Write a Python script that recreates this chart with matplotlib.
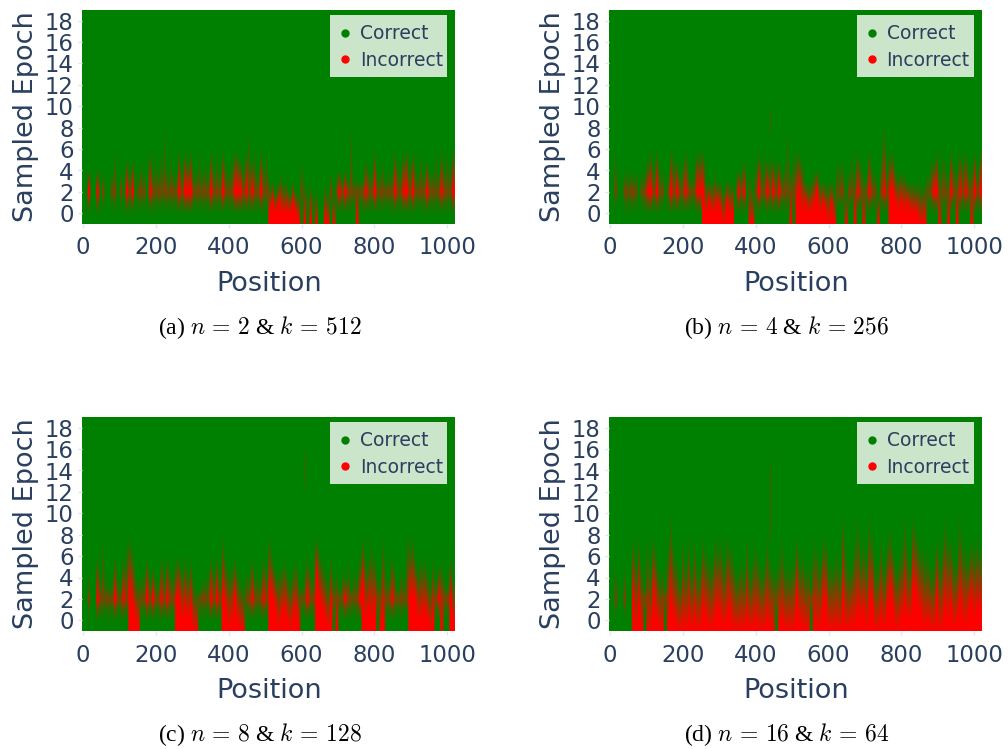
import numpy as np
import matplotlib
matplotlib.use("Agg")
import matplotlib.pyplot as plt
from matplotlib.colors import LinearSegmentedColormap
from matplotlib.lines import Line2D
from matplotlib.patches import Rectangle

# Per 8-position bin: top = epoch at which the incorrect region has faded out
# core: 0 = dim band around epoch 2, 1 = bright band around epoch 2,
#       n >= 2 = solid red from the bottom up to epoch n-3
a_top = [0,0,4,0,0,4,0,4,0,0,4,6,0,4,0,5,
         4,5,0,4,5,4,0,6,4,6,4,6,8,4,6,4,
         4,6,4,6,5,6,4,4,6,4,5,4,6,4,6,4,
         6,5,4,5,6,6,5,4,6,8,5,6,4,6,5,6,
         3,3,2,3,4,3,3,2,3,2,2,5,3,2,3,2,
         2,0,0,3,2,4,2,4,4,3,4,3,8,3,4,3,
         3,5,4,4,6,4,4,5,3,4,4,6,5,4,6,6,
         4,6,5,4,6,4,5,4,4,6,4,6,4,6,5,6]
a_core = [0,0,1,0,0,1,0,0,0,0,0,0,0,0,0,1,
          0,1,0,0,0,0,0,1,0,0,0,0,0,0,0,0,
          0,1,0,1,1,1,0,0,0,0,0,0,1,0,0,0,
          1,0,0,0,1,1,1,0,1,0,1,0,0,1,0,0,
          3,4,3,4,3,3,3,3,4,3,2,0,2,0,2,0,
          2,0,0,2,2,0,2,0,1,0,1,0,0,0,2,0,
          0,1,0,0,1,0,0,0,0,0,0,1,0,0,1,1,
          0,1,0,0,0,0,1,0,0,0,0,1,0,0,0,1]

b_top = [0,0,6,0,0,4,4,4,4,4,0,4,4,5,6,4,
         6,5,4,0,4,6,6,5,4,5,6,4,3,5,6,6,
         6,3,3,3,4,3,3,2,3,3,3,0,4,4,5,0,
         4,2,5,6,5,6,5,6,5,5,5,4,5,8,4,6,
         6,6,5,3,3,3,4,4,3,3,3,3,3,2,5,5,
         5,2,4,6,4,6,5,4,4,6,4,4,2,5,8,4,
         6,6,4,4,4,4,3,3,3,3,3,3,3,4,5,5,
         6,4,6,5,4,6,5,4,6,5,6,4,5,6,4,6]
b_core = [0,0,0,0,0,0,0,0,0,0,0,0,0,1,1,0,
          1,0,0,0,0,1,0,1,0,0,1,0,0,0,1,1,
          5,3,4,3,3,4,3,2,4,3,3,0,1,0,1,0,
          2,2,0,1,0,0,1,0,1,0,1,0,0,0,2,0,
          4,5,3,4,3,3,4,5,3,4,3,2,4,2,0,0,
          0,2,0,0,2,1,0,2,0,1,0,0,2,0,1,0,
          5,5,4,3,4,3,4,3,3,3,2,2,2,0,0,1,
          1,2,0,0,2,1,0,2,1,0,1,0,2,1,0,1]

c_top = [0,0,4,0,0,6,4,8,4,3,4,6,4,4,6,8,
         8,7,5,4,4,5,6,4,5,4,4,6,4,6,5,4,
         6,6,5,6,5,6,4,3,3,4,4,5,6,5,6,4,
         8,6,5,5,6,5,4,3,5,4,6,4,5,4,6,5,
         8,6,5,5,5,6,5,4,5,6,4,3,5,6,5,4,
         8,7,6,5,4,6,4,5,3,5,4,6,3,5,4,6,
         8,6,6,8,6,4,5,8,4,4,6,5,3,5,4,8,
         8,8,6,5,6,6,5,4,6,4,5,6,4,3,6,4]
c_core = [0,0,0,0,0,1,0,0,0,0,0,1,0,0,1,0,
          6,4,3,2,0,0,1,0,1,0,0,1,0,1,0,0,
          5,5,3,4,3,4,2,2,0,0,0,0,1,0,1,0,
          5,4,2,3,5,3,2,2,0,0,1,0,0,0,1,0,
          6,5,4,2,3,4,3,2,3,4,2,0,0,1,0,0,
          7,5,4,3,2,4,0,2,0,0,1,0,0,0,0,1,
          6,3,4,3,4,0,2,3,0,0,1,0,0,0,0,0,
          5,5,5,3,3,4,3,2,3,0,1,3,0,0,5,3]

d_top = [0,0,5,0,0,5,0,0,8,6,8,5,3,8,5,8,
         6,5,5,3,8,10,7,6,4,8,6,8,5,8,5,6,
         8,7,6,6,8,8,8,6,8,8,7,5,5,6,5,8,
         5,6,8,6,5,6,8,6,5,5,6,8,5,6,5,6,
         8,6,7,5,6,3,8,7,6,8,8,5,6,6,7,5,
         10,6,5,6,8,10,6,8,6,10,8,5,6,8,5,7,
         9,7,6,6,7,10,7,6,10,9,7,8,6,7,5,5,
         8,6,8,10,8,8,6,6,10,7,8,6,8,7,8,7]
d_core = [0,0,0,0,0,0,0,0,5,2,4,2,0,2,2,6,
          3,2,2,0,3,4,3,2,2,2,2,3,2,3,2,2,
          4,3,2,2,3,4,3,2,3,4,2,2,2,2,2,3,
          2,2,3,2,2,2,3,2,2,0,2,3,2,2,2,2,
          5,3,2,2,2,0,3,2,2,4,5,2,2,2,2,2,
          5,2,2,3,2,4,3,4,2,5,4,2,2,3,2,4,
          6,4,2,2,3,4,3,3,6,5,4,3,2,3,2,2,
          5,2,2,4,3,4,2,3,5,3,2,4,5,3,4,4]

# Faint isolated streaks: (bin, first epoch, last epoch)
a_streaks = []
b_streaks = [(55, 8, 9)]
c_streaks = [(76, 13, 15)]
d_streaks = [(55, 8, 14)]

captions = [r"(a) $n\,=\,2$ & $k\,=\,512$", r"(b) $n\,=\,4$ & $k\,=\,256$",
            r"(c) $n\,=\,8$ & $k\,=\,128$", r"(d) $n\,=\,16$ & $k\,=\,64$"]
epochs = np.arange(-1, 20)
xticks = [0, 200, 400, 600, 800, 1000]
yticks = list(range(0, 19, 2))
INK = "#2a3f5f"
W, H = 1008, 749
boxes = [(82, 10), (609, 10), (82, 417), (609, 417)]
PW, PH = 374, 214
BIN = 8
PROFILE = np.array([0.5, 1.0, 0.8, 0.5])

plt.rcParams["mathtext.fontset"] = "cm"
cmap = LinearSegmentedColormap.from_list("rg", ["#008000", "#ff0000"])


def build(top, core, streaks):
    z = np.zeros((len(epochs), len(top)))
    for j, (t, c) in enumerate(zip(top, core)):
        if t == 0:
            continue
        if c >= 2:
            s = c - 3
            t = max(t, s + 1)
            z[:, j] = np.clip((t - epochs) / (t - s), 0, 1) ** 0.75
        else:
            peak = 1.0 if c == 1 else 0.6
            up = np.clip((t - epochs) / max(t - 2, 1), 0, 1) ** 0.7
            down = np.clip((epochs + 0.2) / 2.2, 0, 1)
            z[:, j] = peak * np.minimum(up, down)
    for b, e0, e1 in streaks:
        z[(epochs >= e0) & (epochs <= e1), b] = 0.3
    # each bin is a narrow streak: full width where solid, thin where faded
    sub = np.repeat(z, len(PROFILE), axis=1)
    prof = np.tile(PROFILE, len(top))
    return np.clip(sub - (1 - prof) * (1 - sub) * 1.2, 0, 1)


panels = [(a_top, a_core, a_streaks), (b_top, b_core, b_streaks),
          (c_top, c_core, c_streaks), (d_top, d_core, d_streaks)]

fig = plt.figure(figsize=(W / 100, H / 100), dpi=100)
for (top, core, streaks), (px, py), cap in zip(panels, boxes, captions):
    ax = fig.add_axes([px / W, 1 - (py + PH) / H, PW / W, PH / H])
    z = build(top, core, streaks)
    ax.imshow(z, origin="lower", aspect="auto", cmap=cmap, vmin=0, vmax=1,
              interpolation="bilinear", interpolation_stage="rgba",
              extent=[-BIN / 2, len(top) * BIN - BIN / 2, -1.5, 19.5])
    ax.set_xlim(-3, 1024)
    ax.set_ylim(-1, 19)
    ax.set_xticks(xticks)
    ax.set_yticks(yticks)
    ax.tick_params(axis="x", labelsize=16.4, labelcolor=INK, color="#dfe6ee",
                   length=3, width=1, pad=6)
    ax.tick_params(axis="y", labelsize=16.4, labelcolor=INK, color="#dfe6ee",
                   length=3, width=1, pad=3)
    for s in ax.spines.values():
        s.set_visible(False)
    ax.set_xlabel("Position", fontsize=19.5, color=INK, labelpad=8.5)
    ax.set_ylabel("Sampled Epoch", fontsize=19.5, color=INK, labelpad=4.5)
    ax.add_patch(Rectangle((248 / PW, 1 - 67 / PH), 117 / PW, 62 / PH, transform=ax.transAxes,
                           facecolor="white", alpha=0.8, edgecolor="none", zorder=3))
    handles = [Line2D([], [], ls="", marker="o", ms=5, color="#008000", label="Correct"),
               Line2D([], [], ls="", marker="o", ms=5, color="#ff0000", label="Incorrect")]
    ax.legend(handles=handles, loc="upper left",
              bbox_to_anchor=(248 / PW, 1 - 10 / PH), borderaxespad=0,
              fontsize=13.5, labelcolor=INK, frameon=False, handletextpad=0.2,
              handlelength=1.16, labelspacing=0.42, borderpad=0.22)
    fig.text((px + PW / 2 - 9) / W, 1 - (py + 318) / H, cap, ha="center", va="center",
             fontsize=17, family="Liberation Serif", color="black")

fig.savefig("out.png", dpi=100)
